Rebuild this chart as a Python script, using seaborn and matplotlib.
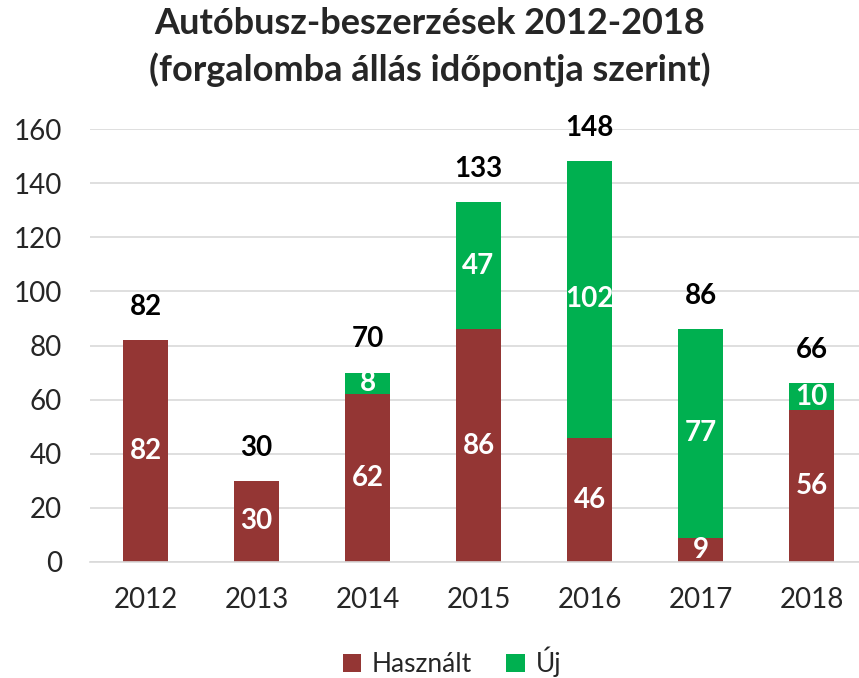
import pandas as pd
import numpy as np
import matplotlib
matplotlib.use('Agg')
import matplotlib.pyplot as plt
import seaborn as sns

years = ['2012', '2013', '2014', '2015', '2016', '2017', '2018']
hasznalt = [82, 30, 62, 86, 46, 9, 56]
uj = [0, 0, 8, 47, 102, 77, 10]
totals = [h + u for h, u in zip(hasznalt, uj)]

BROWN = '#943634'
GREEN = '#00B050'

sns.set_style('white')
plt.rcParams['font.family'] = ['Lato', 'DejaVu Sans']

df = pd.DataFrame({'Év': years, 'Használt': hasznalt, 'Új': uj})

fig = plt.figure(figsize=(8.59, 6.78), dpi=100)
ax = fig.add_axes([90 / 859, 1 - 562 / 678, 777 / 859, 433 / 678])

sns.barplot(data=df, x='Év', y='Használt', order=years, color=BROWN,
            width=0.41, ax=ax, label='Használt', saturation=1, linewidth=0)
sns.barplot(data=df, x='Év', y='Új', order=years, color=GREEN,
            width=0.41, bottom=df['Használt'], ax=ax, label='Új', saturation=1, linewidth=0)

ax.set_ylim(0, 160)
ax.set_yticks(range(0, 161, 20))
ax.yaxis.grid(True, color='#d9d9d9', linewidth=1.2)
ax.set_axisbelow(True)
for s in ['top', 'right', 'left']:
    ax.spines[s].set_visible(False)
ax.spines['bottom'].set_color('#d9d9d9')
ax.spines['bottom'].set_linewidth(1.2)
ax.tick_params(axis='y', length=0, labelsize=20, pad=20)
ax.tick_params(axis='x', length=0, labelsize=20, pad=18)
ax.set_xlabel('')
ax.set_ylabel('')

# segment labels
for i, (h, u) in enumerate(zip(hasznalt, uj)):
    if h > 0:
        ax.text(i, h / 2, str(h), ha='center', va='center', color='white',
                fontsize=20, fontweight='bold')
    if u > 0:
        ax.text(i, h + u / 2, str(u), ha='center', va='center', color='white',
                fontsize=20, fontweight='bold')
    ax.text(i, totals[i] + 7.5, str(totals[i]), ha='center', va='bottom', color='black',
            fontsize=20, fontweight='bold', clip_on=False)

fig.text(0.5, 1 - 24 / 678, 'Autóbusz-beszerzések 2012-2018', ha='center', va='center',
         fontsize=26, fontweight='bold')
fig.text(0.5, 1 - 70 / 678, '(forgalomba állás időpontja szerint)', ha='center', va='center',
         fontsize=26, fontweight='bold')

ax.legend(loc='center', bbox_to_anchor=(452 / 859, 1 - 662 / 678), bbox_transform=fig.transFigure,
          ncol=2, frameon=False, fontsize=19, handlelength=0.7, handleheight=0.7,
          handletextpad=0.4, columnspacing=1.3)

fig.savefig('out.png', dpi=100)
